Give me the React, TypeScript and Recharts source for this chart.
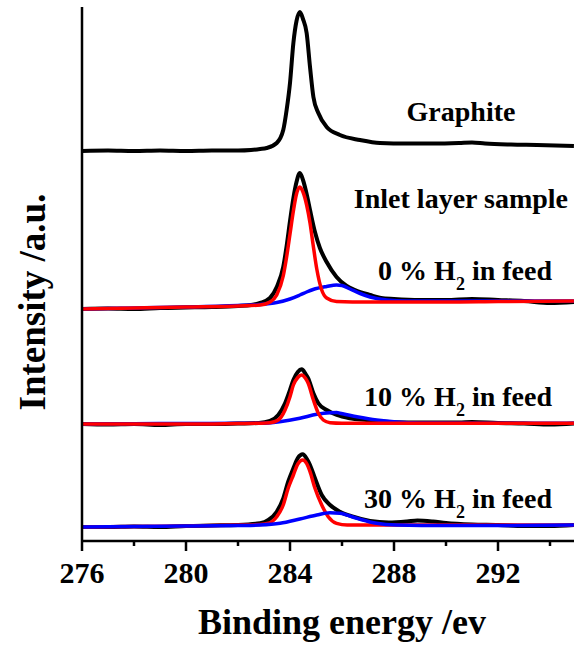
import React from 'react';
import { LineChart, Line, XAxis, YAxis } from 'recharts';

// ---- data (binding energy in eV, intensity in arbitrary stacked units) ----
const graphiteE = [276, 277, 278, 279, 280, 281, 282, 282.5, 282.85, 283.1, 283.49, 283.74, 283.87, 284.0, 284.13, 284.25, 284.38, 284.5, 284.64, 284.77, 284.9, 285.09, 285.41, 285.92, 286.69, 287.46, 288.5, 289.5, 290.5, 291.0, 291.5, 292.5, 293.5, 294.92];
const graphiteI = [390, 390.5, 390, 390.5, 390, 390.5, 390.5, 391, 392, 393, 398, 411, 431, 458, 498, 520, 529, 522, 508, 474, 444, 428, 414, 406, 401, 398, 397.5, 397.5, 398, 398.5, 397.5, 396.5, 396, 395];

const h0E = [276, 277, 278, 279, 280, 281, 282, 282.5, 282.85, 283.23, 283.49, 283.74, 283.87, 284.0, 284.13, 284.25, 284.38, 284.5, 284.64, 284.77, 284.96, 285.15, 285.41, 285.79, 286.18, 286.5, 287.08, 287.5, 288, 289, 290, 291, 292, 293, 294, 294.92];
const h0Raw = [232, 232.5, 232, 233, 233.5, 234, 235, 236, 238, 243, 254, 274, 295, 320, 343, 359, 368, 361, 347, 331, 309, 293, 279, 264, 255, 251, 246, 243, 242, 241, 241, 242, 241, 240, 238, 239];
const h0FitE = [276, 278, 280, 282, 282.85, 283.23, 283.49, 283.74, 283.87, 284.0, 284.13, 284.25, 284.38, 284.5, 284.64, 284.77, 284.89, 285.03, 285.22, 285.41, 285.79, 287, 290, 292, 294.92];
const h0Fit = [232, 233, 234, 235, 236, 239, 246, 265, 284, 307, 330, 347, 354, 349, 336, 318, 296, 272, 251, 243, 239.5, 239, 239, 239.5, 240];
const h0CompE = [276, 278, 280, 282, 282.85, 283.23, 283.49, 284.0, 284.38, 284.64, 284.89, 285.41, 285.79, 286.0, 286.31, 286.7, 287.08, 287.72, 288.5, 290, 292, 294.92];
const h0Comp = [232, 233, 234, 235.5, 236.5, 237.5, 238.5, 242, 246, 249, 251.5, 254.5, 256, 255.5, 252, 247.5, 244, 241, 240, 240, 240, 240];

const h10E = [276, 277, 278, 279, 280, 281, 282, 282.8, 283.23, 283.55, 283.81, 284.0, 284.13, 284.3, 284.45, 284.6, 284.7, 284.9, 285.09, 285.41, 285.8, 286.31, 286.95, 287.5, 288.5, 289.5, 290.5, 291, 292, 293, 294, 294.92];
const h10Raw = [117, 116.5, 117, 116, 117, 117, 117.5, 118, 120, 126, 137.7, 151, 161, 169, 171.7, 167, 162.7, 147.7, 137.7, 131, 126, 122.7, 121, 119.5, 118.5, 118.5, 118.5, 119, 118, 117.5, 116.5, 117.5];
const h10FitE = [276, 278, 280, 282, 282.9, 283.23, 283.55, 283.81, 284.0, 284.13, 284.3, 284.45, 284.6, 284.7, 284.9, 285.09, 285.28, 285.54, 286, 288, 290, 294.92];
const h10Fit = [117, 117, 117, 117.5, 117.8, 118.3, 121, 131, 144.3, 156, 163.5, 166, 162.5, 157.7, 141, 127.7, 121, 118.3, 117.8, 117.8, 117.8, 117.8];
const h10CompE = [276, 278, 280, 282, 282.85, 283.6, 284.38, 285.03, 285.54, 285.8, 285.92, 286.57, 287.33, 288.1, 289, 291, 294.92];
const h10Comp = [117, 117.3, 117.5, 117.7, 117.7, 119.3, 122.7, 126.7, 128.3, 128.5, 127.7, 124.3, 121, 119, 118, 117.8, 117.8];

const h30E = [276, 277, 278, 279, 280, 281, 282, 282.85, 283.17, 283.49, 283.74, 283.93, 284.13, 284.3, 284.49, 284.65, 284.77, 284.96, 285.22, 285.54, 285.92, 286.43, 287.08, 287.8, 288.5, 288.9, 289.5, 290, 291, 292, 293, 294, 294.92];
const h30Raw = [14, 14, 14.5, 14, 15, 15.5, 16, 17.7, 21, 29.3, 42.7, 59.3, 72.7, 83, 86.7, 82, 76, 62.7, 46, 36, 29.3, 24.3, 20, 18.5, 19.5, 20.5, 19.5, 18, 16.5, 16, 15, 15, 16];
const h30FitE = [276, 278, 280, 282, 282.85, 283.17, 283.49, 283.74, 283.93, 284.13, 284.3, 284.49, 284.65, 284.77, 284.96, 285.22, 285.47, 285.79, 286.2, 288, 290, 294.92];
const h30Fit = [14, 14.5, 15, 16, 16.5, 17.7, 24.3, 36, 52.7, 66, 77, 81, 77, 69.3, 52.7, 36, 24.3, 17.7, 16, 16, 16, 16];
const h30CompE = [276, 278, 280, 282, 282.85, 283.62, 284.38, 285.03, 285.54, 285.92, 286.57, 287.33, 288.1, 290, 292, 294.92];
const h30Comp = [14, 14.5, 15, 15.5, 16, 17.7, 22, 26, 28.3, 27.7, 22.7, 17.7, 16, 15.5, 15.5, 16];

const allTicks = [276, 278, 280, 282, 284, 286, 288, 290, 292, 294];
const majorTicks = [276, 280, 284, 288, 292];

const toPts = (e: number[], v: number[]) => e.map((x, i) => ({ e: x, v: v[i] }));

const FONT = '"Liberation Serif", "Times New Roman", Times, serif';

const BottomTick = (props: any) => {
  const { x, y, payload } = props;
  const major = majorTicks.includes(payload.value);
  return (
    <g>
      <line x1={x} x2={x} y1={y} y2={y + (major ? 10 : 5)} stroke="#000" strokeWidth={2.5} />
      {major && (
        <text x={x} y={y + 42} textAnchor="middle" fontFamily={FONT} fontWeight="bold" fontSize={30} fill="#000">
          {payload.value}
        </text>
      )}
    </g>
  );
};

const TopTick = (props: any) => {
  const { x, y } = props;
  return <line x1={x} x2={x} y1={y} y2={y + 3} stroke="#000" strokeWidth={1.5} />;
};

const labelStyle = { fontFamily: FONT, fontWeight: 'bold' as const, fill: '#000' };

const H2Label = ({ x, y, pct }: { x: number; y: number; pct: string }) => (
  <text x={x} y={y} textAnchor="end" fontSize={28} {...labelStyle}>
    {pct} % H
    <tspan fontSize={18} dy={10}>2</tspan>
    <tspan dy={-10}> in feed</tspan>
  </text>
);

export default function App() {
  const series = [
    { d: toPts(graphiteE, graphiteI), c: '#000000', w: 4 },
    { d: toPts(h0E, h0Raw), c: '#000000', w: 4 },
    { d: toPts(h0CompE, h0Comp), c: '#0000ff', w: 3.5 },
    { d: toPts(h0FitE, h0Fit), c: '#ff0000', w: 3.5 },
    { d: toPts(h10E, h10Raw), c: '#000000', w: 4 },
    { d: toPts(h10CompE, h10Comp), c: '#0000ff', w: 3.5 },
    { d: toPts(h10FitE, h10Fit), c: '#ff0000', w: 3.5 },
    { d: toPts(h30E, h30Raw), c: '#000000', w: 4 },
    { d: toPts(h30FitE, h30Fit), c: '#ff0000', w: 3.5 },
    { d: toPts(h30CompE, h30Comp), c: '#0000ff', w: 3.5 },
  ];
  return (
    <div style={{ position: 'absolute', left: 0, top: 0, width: 574, height: 648, overflow: 'hidden', background: '#fff' }}>
      <LineChart width={576} height={648} margin={{ top: 7, right: 0, bottom: 0, left: 0 }}>
        <XAxis
          dataKey="e"
          type="number"
          domain={[276, 295]}
          allowDataOverflow
          ticks={allTicks}
          interval={0}
          tickLine={false}
          tickSize={0}
          tickMargin={0}
          tick={<BottomTick />}
          axisLine={{ stroke: '#000', strokeWidth: 2.5 }}
          height={107}
        />
        <XAxis
          xAxisId="top"
          orientation="top"
          dataKey="e"
          type="number"
          domain={[276, 295]}
          allowDataOverflow
          ticks={allTicks}
          interval={0}
          tickLine={false}
          tickSize={0}
          tickMargin={0}
          tick={<TopTick />}
          axisLine={{ stroke: '#000', strokeWidth: 2.5 }}
          height={0}
        />
        <YAxis
          type="number"
          domain={[0, 534]}
          allowDataOverflow
          tick={false}
          tickLine={false}
          axisLine={{ stroke: '#000', strokeWidth: 2.5 }}
          width={82}
        />
        {series.map((s, i) => (
          <Line
            key={i}
            data={s.d}
            dataKey="v"
            type="monotone"
            stroke={s.c}
            strokeWidth={s.w}
            dot={false}
            activeDot={false}
            isAnimationActive={false}
          />
        ))}
      </LineChart>
      <svg width={574} height={648} style={{ position: 'absolute', left: 0, top: 0, pointerEvents: 'none' }}>
        <text x={461} y={121} textAnchor="middle" fontSize={28} {...labelStyle}>Graphite</text>
        <text x={568} y={208} textAnchor="end" fontSize={28} {...labelStyle}>Inlet layer sample</text>
        <H2Label x={552} y={280} pct="0" />
        <H2Label x={552} y={406} pct="10" />
        <H2Label x={552} y={508} pct="30" />
        <text x={342} y={634} textAnchor="middle" fontSize={36} {...labelStyle}>Binding energy /ev</text>
        <text x={45} y={302} textAnchor="middle" fontSize={37} transform="rotate(-90 45 302)" {...labelStyle}>Intensity /a.u.</text>
      </svg>
    </div>
  );
}
